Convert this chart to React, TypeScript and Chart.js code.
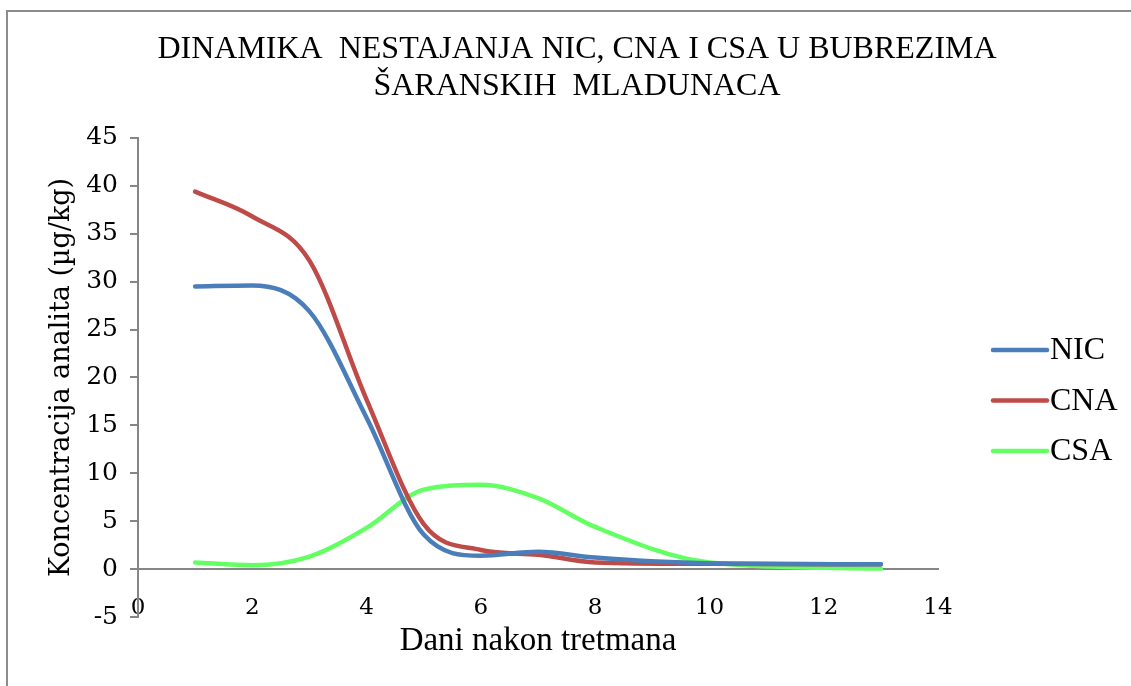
import React, { useEffect, useRef } from "react";
import { Chart, registerables } from "chart.js";

Chart.register(...registerables);

const days = [1, 2, 3, 4, 5, 6, 7, 8, 10, 13];
const nicValues = [29.5, 29.6, 26.9, 15.8, 3.6, 1.4, 1.8, 1.2, 0.6, 0.5];
const cnaValues = [39.4, 36.8, 32.2, 17.7, 4.7, 2.0, 1.5, 0.7, 0.55, 0.5];
const csaValues = [0.7, 0.4, 1.3, 4.3, 8.3, 8.8, 7.4, 4.4, 0.7, 0.05];
const seriesNames = ["NIC", "CNA", "CSA"];
const seriesColors = ["#4a7ebb", "#be4b48", "#63ff63"];
const titleLines = ["DINAMIKA  NESTAJANJA NIC, CNA I CSA U BUBREZIMA", "ŠARANSKIH  MLADUNACA"];
const xAxisTitle = "Dani nakon tretmana";
const yAxisTitle = "Koncentracija analita (µg/kg)";
const xTickRange = [0, 14, 2];
const yTickRange = [-5, 45, 5];

const W = 1138;
const H = 700;
const AXIS_COLOR = "#868686";
const SERIF = "'Liberation Serif', 'Times New Roman', serif";
const TICK_SERIF = "'DejaVu Serif', serif";

const sideLegend = {
  id: "sideLegend",
  afterDraw(chart: any) {
    const { ctx, chartArea } = chart;
    ctx.save();
    ctx.font = `32px ${SERIF}`;
    ctx.textBaseline = "middle";
    ctx.textAlign = "left";
    chart.data.datasets.forEach((ds: any, i: number) => {
      const y = chartArea.top + 212 + i * 50.5;
      const x0 = chartArea.right + 55;
      ctx.strokeStyle = ds.borderColor;
      ctx.lineWidth = 4.5;
      ctx.lineCap = "round";
      ctx.beginPath();
      ctx.moveTo(x0, y);
      ctx.lineTo(x0 + 54, y);
      ctx.stroke();
      ctx.fillStyle = "#000";
      ctx.fillText(ds.label, x0 + 57, y + 1);
    });
    ctx.restore();
  },
};

export default function App() {
  const ref = useRef<HTMLCanvasElement | null>(null);

  useEffect(() => {
    if (!ref.current) return;
    const series = [nicValues, cnaValues, csaValues];
    const chart = new Chart(ref.current, {
      type: "line",
      data: {
        datasets: series.map((vals, i) => ({
          label: seriesNames[i],
          data: days.map((d, j) => ({ x: d, y: vals[j] })),
          borderColor: seriesColors[i],
          backgroundColor: seriesColors[i],
          borderWidth: 4.5,
          borderCapStyle: "round",
          borderJoinStyle: "round",
          pointRadius: 0,
          cubicInterpolationMode: "monotone",
          fill: false,
          yAxisID: "y",
        })),
      },
      options: {
        responsive: false,
        animation: false,
        devicePixelRatio: 1,
        layout: { padding: { left: 0, right: 0, top: 0, bottom: 95 } },
        plugins: {
          legend: { display: false },
          tooltip: { enabled: false },
          title: {
            display: true,
            text: titleLines,
            color: "#000",
            font: { family: SERIF, size: 32, weight: "normal", lineHeight: 1.156 },
            padding: { top: 19.5, bottom: 32.5 },
          },
        },
        scales: {
          x: {
            type: "linear",
            position: { y: 0 },
            min: xTickRange[0],
            max: xTickRange[1],
            afterFit: (s: any) => {
              s.height = 95;
            },
            ticks: {
              stepSize: xTickRange[2],
              color: "#000",
              padding: 25,
              font: { family: TICK_SERIF, size: 23 },
              maxRotation: 0,
            },
            grid: { display: false, drawTicks: false },
            border: { display: true, color: AXIS_COLOR, width: 2 },
            title: {
              display: true,
              text: xAxisTitle,
              color: "#000",
              font: { family: SERIF, size: 33 },
              padding: { top: 0, bottom: 3 },
            },
          },
          y: {
            type: "linear",
            position: "left",
            min: yTickRange[0],
            max: yTickRange[1],
            afterFit: (s: any) => {
              s.width = 130;
            },
            ticks: {
              stepSize: yTickRange[2],
              color: "#000",
              padding: 12,
              font: { family: TICK_SERIF, size: 25 },
            },
            grid: {
              display: true,
              drawOnChartArea: false,
              drawTicks: true,
              tickLength: 8,
              color: AXIS_COLOR,
              lineWidth: 2,
            },
            border: { display: true, color: AXIS_COLOR, width: 2 },
            title: {
              display: true,
              text: yAxisTitle,
              color: "#000",
              font: { family: TICK_SERIF, size: 27 },
              padding: { top: 38, bottom: 0 },
            },
          },
          legendSpace: {
            type: "linear",
            position: "right",
            display: true,
            afterFit: (s: any) => {
              s.width = 208;
            },
            ticks: { display: false },
            grid: { display: false, drawTicks: false },
            border: { display: false },
            title: { display: false },
          },
        },
      },
      plugins: [sideLegend],
    });
    return () => chart.destroy();
  }, []);

  return (
    <div
      style={{
        position: "fixed",
        left: 6,
        top: 10,
        width: 1125,
        height: 676,
        overflow: "hidden",
        background: "#fff",
      }}
    >
      <div style={{ border: "2px solid #8c8c8c", width: W, height: H, background: "#fff" }}>
        <canvas ref={ref} width={W} height={H} style={{ display: "block", width: W, height: H }} />
      </div>
    </div>
  );
}
